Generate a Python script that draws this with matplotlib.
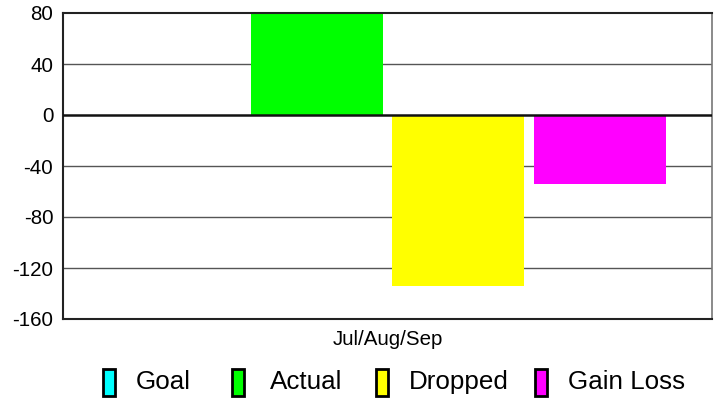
import matplotlib
matplotlib.use("Agg")
import matplotlib.pyplot as plt
from matplotlib.patches import Rectangle
import numpy as np

plt.rcParams['font.family'] = ['Liberation Sans', 'DejaVu Sans']

category = "Jul/Aug/Sep"
series = ["Goal", "Actual", "Dropped", "Gain Loss"]
values = [0, 79, -134, -54]
colors = ["#00FFFF", "#00FF00", "#FFFF00", "#FF00FF"]
yticks = [-160, -120, -80, -40, 0, 40, 80]

W, H = 721, 399
fig = plt.figure(figsize=(W / 100, H / 100), dpi=100)
L, R, T, B = 63, 712, 13, 319
ax = fig.add_axes([L / W, 1 - B / H, (R - L) / W, (B - T) / H])

step = 0.218
width = 0.2034
offsets = (np.arange(len(series)) - (len(series) - 1) / 2) * step
for off, v, c in zip(offsets, values, colors):
    ax.bar(off, v, width=width, color=c, edgecolor='none', zorder=2)

ax.set_xlim(-0.5, 0.5)
ax.set_ylim(-160, 80)
ax.set_yticks(yticks)
ax.set_yticklabels([str(t) for t in yticks], fontsize=14.8)
ax.set_xticks([0])
ax.set_xticklabels([category], fontsize=14.8)
ax.tick_params(axis='both', length=0)
ax.tick_params(axis='y', pad=7)
ax.tick_params(axis='x', pad=8)

for t in yticks[1:-1]:
    if t == 0:
        continue
    ax.axhline(t, color='#555555', lw=1.0, zorder=1)
ax.axhline(0, color='#111111', lw=1.8, zorder=3)

for s in ['top', 'left', 'bottom']:
    ax.spines[s].set_color('#222222')
    ax.spines[s].set_linewidth(1.5)
ax.spines['right'].set_color('#777777')
ax.spines['right'].set_linewidth(1.2)

# Legend drawn manually
box_x = [103, 232, 376, 535]
text_x = [136, 270, 409, 568]
box_w, box_top, box_bot = 12, 369, 396
for bx, tx, name, c in zip(box_x, text_x, series, colors):
    fig.add_artist(Rectangle((bx / W, 1 - box_bot / H), box_w / W, (box_bot - box_top) / H,
                             transform=fig.transFigure, facecolor=c, edgecolor='black',
                             linewidth=2.0))
    fig.text(tx / W, 1 - 382 / H, name, fontsize=18.7, va='center', ha='left')

fig.savefig("out.png", dpi=100)
